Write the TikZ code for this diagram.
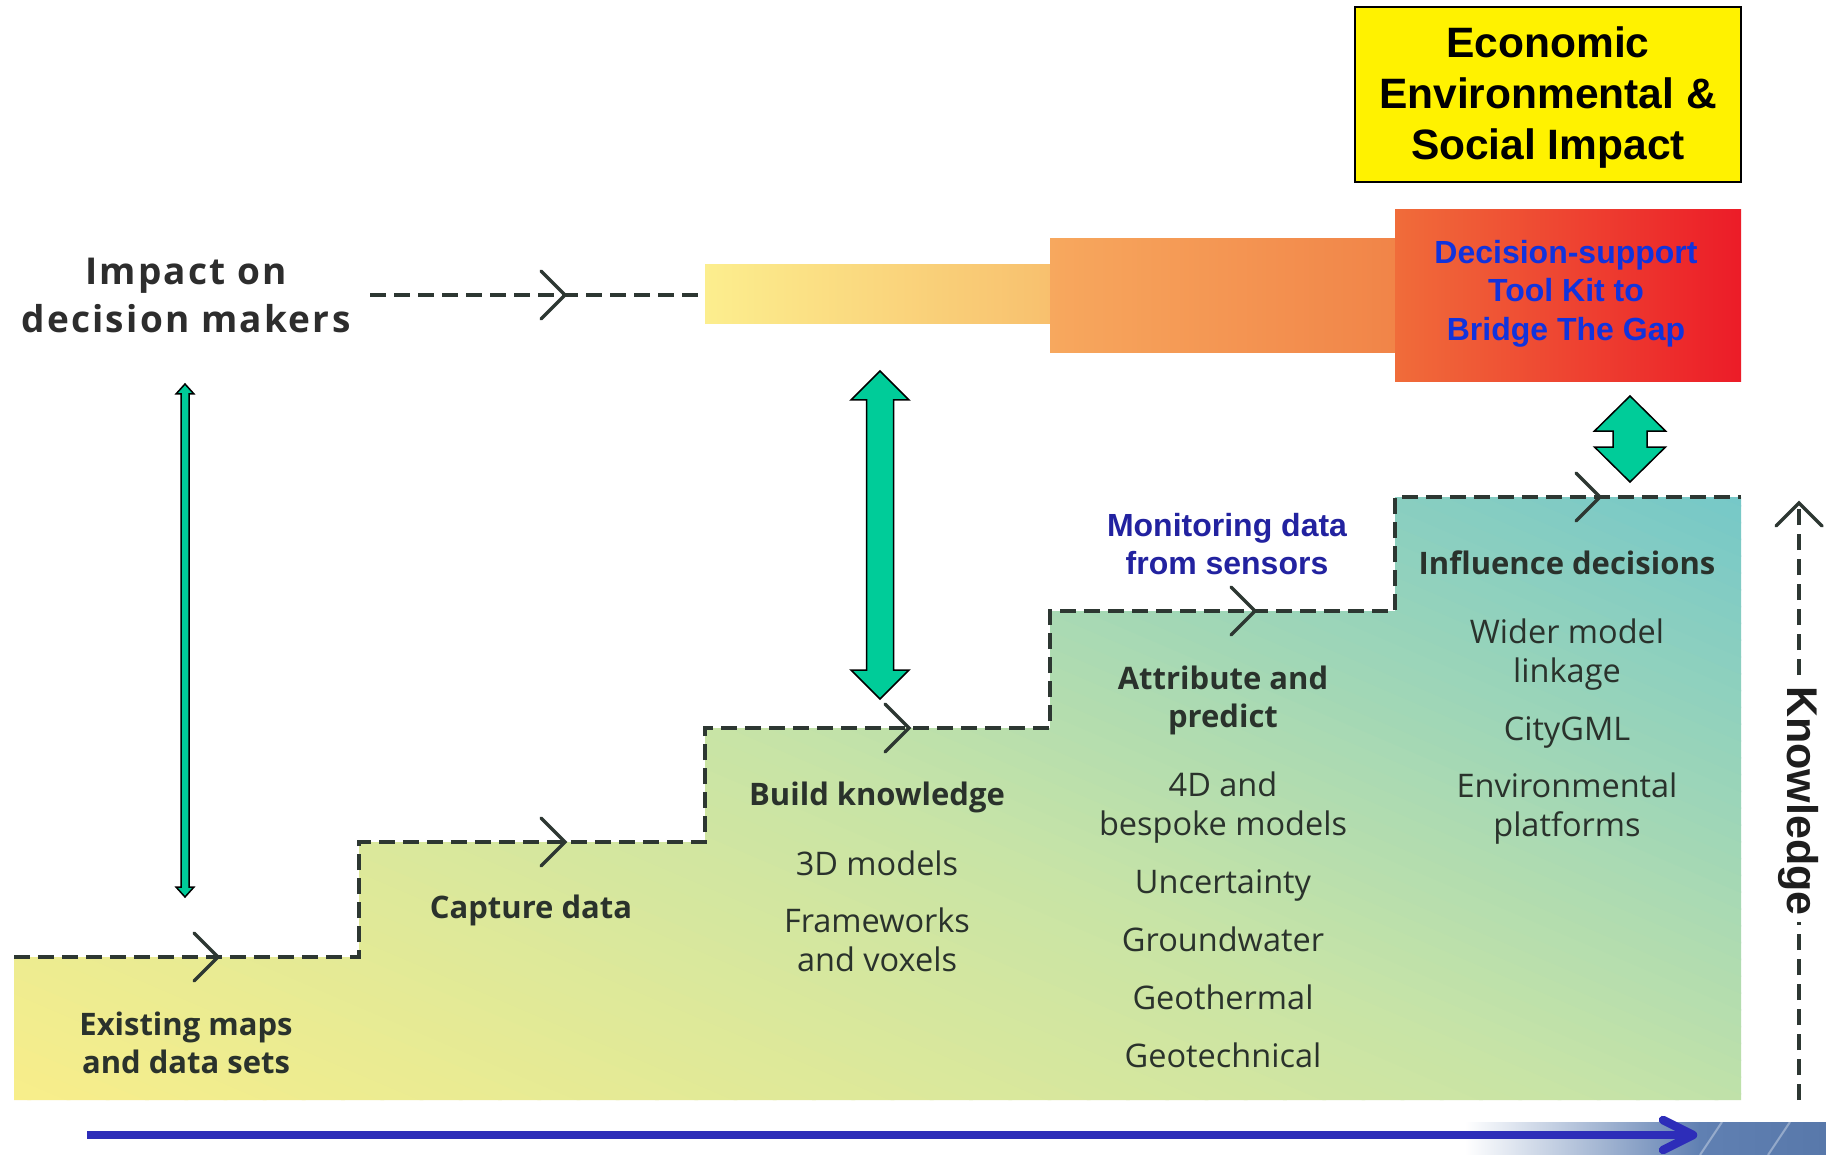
\documentclass[tikz,border=0pt]{standalone}
\usepackage{fontspec}
\setmainfont{Open Sans}
\newfontfamily\arialf{Liberation Sans}
\newfontfamily\spacedf{Open Sans}[LetterSpace=6]
\usetikzlibrary{calc}
\definecolor{txt}{RGB}{42,50,44}
\definecolor{dashc}{RGB}{45,55,50}
\definecolor{grn}{RGB}{0,204,153}
\definecolor{stepY}{RGB}{248,238,138}
\definecolor{stepM}{RGB}{200,228,166}
\definecolor{stepT}{RGB}{118,200,200}
\definecolor{blueT}{RGB}{17,51,221}
\definecolor{navyT}{RGB}{34,34,160}
\definecolor{arrB}{RGB}{45,45,185}
\definecolor{barB}{RGB}{96,128,178}
\definecolor{barB2}{RGB}{88,120,170}
\begin{document}
\begin{tikzpicture}[x=1pt,y=-1pt,
  dashline/.style={draw=dashc, line width=3.5pt, dash pattern=on 16pt off 8pt},
  chev/.style={draw=dashc, line width=3.5pt, line cap=round},
  item/.style={text=txt, align=center, inner sep=0pt, font=\fontsize{32.5}{39}\selectfont},
  head/.style={text=txt, align=center, inner sep=0pt, font=\bfseries\fontsize{31}{38}\selectfont},
  garrow/.style={fill=grn, draw=black, line width=1.5pt, line join=miter},
]
\useasboundingbox (0,0) rectangle (1826,1155);
\fill[white] (0,0) rectangle (1826,1155);

% staircase background: diagonal gradient built from thin bands
\begin{scope}
\clip (14,1100) -- (14,957) -- (359,957) -- (359,842) -- (705,842) -- (705,728)
  -- (1050,728) -- (1050,611) -- (1395,611) -- (1395,497) -- (1741,497) -- (1741,1100) -- cycle;
\foreach \i in {0,...,83} {
  \pgfmathsetmacro\tc{-0.02+\i*0.0125}
  \pgfmathsetmacro\tn{\tc+0.0135}
  \pgfmathsetmacro\tm{\tc+0.00625}
  \pgfmathsetmacro\pp{max(0,min(100,\tm*200))}
  \pgfmathsetmacro\qq{max(0,min(100,(\tm-0.5)*200))}
  \ifdim\tm pt<0.5pt \colorlet{bandc}{stepM!\pp!stepY}\else\colorlet{bandc}{stepT!\qq!stepM}\fi
  \fill[bandc] ({14+\tc*3140},1101) -- ({14+\tn*3140},1101)
    -- ({14+(\tn-0.45)*3140},496) -- ({14+(\tc-0.45)*3140},496) -- cycle;
}
\end{scope}

% staircase dashed outline
\coordinate (s0) at (14,957);
\coordinate (s1) at (359,957);
\coordinate (s2) at (359,842);
\coordinate (s3) at (705,842);
\coordinate (s4) at (705,728);
\coordinate (s5) at (1050,728);
\coordinate (s6) at (1050,611);
\coordinate (s7) at (1395,611);
\coordinate (s8) at (1395,497);
\coordinate (s9) at (1741,497);
\draw[dashline] (s0) -- (s1) -- (s2) -- (s3) -- (s4) -- (s5) -- (s6) -- (s7) -- (s8) -- (s9);

% top dashed line
\coordinate (t0) at (370,295);
\coordinate (t1) at (705,295);
\draw[dashline] (t0) -- (t1);

% chevrons
\foreach \n/\p in {c1/{218,957}, c2/{565,842}, c3/{909,728}, c4/{1255,611}, c5/{1600,497}, c6/{565,295}} {
  \coordinate (\n) at (\p);
  \draw[chev] ($(\n)+(-24,-24)$) -- (\n) -- ($(\n)+(-24,24)$);
}

% top gradient blocks
\shade[left color={rgb,255:red,252;green,238;blue,142}, right color={rgb,255:red,248;green,192;blue,110}]
  (705,265) rectangle (1050,324);
\shade[left color={rgb,255:red,247;green,168;blue,94}, right color={rgb,255:red,241;green,132;blue,72}]
  (1050,239) rectangle (1395,353);
\shade[left color={rgb,255:red,240;green,108;blue,58}, right color={rgb,255:red,236;green,28;blue,40}]
  (1395,210) rectangle (1741,382);

% yellow box
\node[draw=black, line width=2pt, fill=yellow, minimum width=386pt, minimum height=175pt, inner sep=0pt]
  (impact) at (1548,94.5) {};
\node[align=center, inner sep=0pt, font=\arialf\bfseries\fontsize{42.5}{51}\selectfont]
  (impacttxt) at (1548,98) {Economic\\Environmental \&\\Social Impact};

% decision-support text
\node[align=center, text=blueT, inner sep=0pt, font=\arialf\bfseries\fontsize{32}{38.5}\selectfont]
  (dst) at (1566,293.5) {Decision-support\\Tool Kit to\\Bridge The Gap};

% monitoring text
\node[align=center, text=navyT, inner sep=0pt, font=\arialf\bfseries\fontsize{32}{38}\selectfont]
  (mon) at (1227,544) {Monitoring data\\from sensors};

% Impact on decision makers
\node[align=center, text={rgb,255:red,45;green,45;blue,45}, inner sep=0pt,
      font=\spacedf\bfseries\fontsize{37}{48}\selectfont]
  (idm) at (186,295) {Impact on\\decision makers};

% step texts
\node[head] (ex) at (186,1042.5) {Existing maps\\and data sets};
\node[head] (cap) at (531,910.5) {Capture data};
\node[head] (bk) at (877,797.5) {Build knowledge};
\node[item] (m3d) at (877,863) {3D models};
\node[item] (fw) at (877,939.5) {Frameworks\\and voxels};
\node[head] (ap) at (1223,700.5) {Attribute and\\predict};
\node[item] (m4d) at (1223,808) {4D and\\bespoke models};
\node[item] (unc) at (1223,885.5) {Uncertainty};
\node[item] (gw) at (1223,939) {Groundwater};
\node[item] (gth) at (1223,997) {Geothermal};
\node[item] (gtc) at (1223,1055) {Geotechnical};
\node[head] (inf) at (1567,563) {Influence decisions};
\node[item] (wml) at (1567,654.5) {Wider model\\linkage};
\node[item] (cgml) at (1567,732.5) {CityGML};
\node[item] (env) at (1567,808.5) {Environmental\\platforms};

% Knowledge axis
\coordinate (k0) at (1799,1100);
\coordinate (k1) at (1799,503);
\draw[dashline, dash pattern=on 16pt off 9pt] (k0) -- (k1);
\draw[chev] ($(k1)+(-23,23)$) -- (k1) -- ($(k1)+(23,23)$);
\node[rotate=-90, fill=white, inner sep=6pt, text={rgb,255:red,30;green,30;blue,30},
      font=\arialf\bfseries\fontsize{43}{43}\selectfont] (know) at (1799,801) {Knowledge};

% green double arrows
\coordinate (g1) at (185,384);
\draw[garrow] (g1) -- ++(9,10) -- ++(-5,0) -- ++(0,493) -- ++(5,0) -- ++(-9,10)
  -- ++(-9,-10) -- ++(5,0) -- ++(0,-493) -- ++(-5,0) -- cycle;
\coordinate (g2) at (880,371);
\draw[garrow] (g2) -- ++(29,29) -- ++(-15.5,0) -- ++(0,270) -- ++(15.5,0) -- ++(-29,29)
  -- ++(-29,-29) -- ++(15.5,0) -- ++(0,-270) -- ++(-15.5,0) -- cycle;
\coordinate (g3) at (1630,396);
\draw[garrow] (g3) -- ++(35.5,35) -- ++(-18.5,0) -- ++(0,16) -- ++(18.5,0) -- ++(-35.5,35)
  -- ++(-35.5,-35) -- ++(18.5,0) -- ++(0,-16) -- ++(-18.5,0) -- cycle;

% bottom bar
\shade[left color=white, right color=barB] (1465,1122) rectangle (1700,1155);
\shade[left color=barB, right color=barB2] (1699,1122) rectangle (1826,1155);
\draw[white, opacity=0.35, line width=2pt] (1700,1155) -- (1722,1122);
\draw[white, opacity=0.35, line width=2pt] (1768,1155) -- (1790,1122);

% bottom blue arrow
\coordinate (b0) at (87,1135);
\coordinate (b1) at (1693,1135);
\draw[arrB, line width=8pt] (b0) -- ($(b1)+(-4,0)$);
\draw[arrB, line width=8.5pt, line cap=round, line join=round]
  ($(b1)+(-30,-15)$) -- (b1) -- ($(b1)+(-30,15)$);
\end{tikzpicture}
\end{document}
